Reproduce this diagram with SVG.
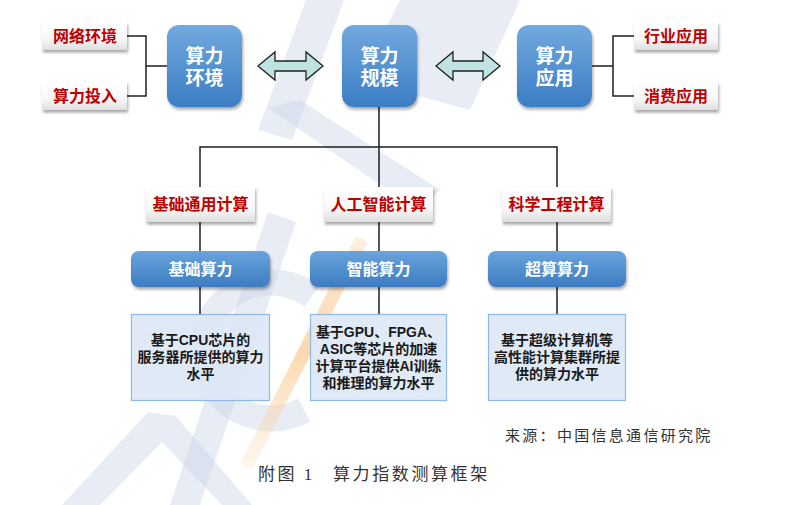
<svg xmlns="http://www.w3.org/2000/svg" width="786" height="505" viewBox="0 0 786 505">
<style>
.cjk{font-family:"Liberation Sans","Noto Sans CJK SC",sans-serif;font-weight:bold;text-anchor:middle}
.red{fill:#c00000;font-size:16px}
.wt{fill:#ffffff}
.big{font-size:19px}
.mid{font-size:16px}
.desc{fill:#1a1a1a;font-size:14px}
.wire{stroke:#1e1e1e;stroke-width:1.5;fill:none}
.arrow{fill:#bfe3e2;stroke:#222;stroke-width:1.3;stroke-linejoin:miter}
.tbox{fill:#dde8f5;stroke:#8db8e8;stroke-width:1.2;fill-opacity:0.9}
.serif{font-family:"Liberation Serif","Noto Sans CJK SC",serif;fill:#333;font-weight:normal}
.wm{fill:#c9d4e8;opacity:0.45}
</style>
<defs>
<linearGradient id="gBlue" x1="0" y1="0" x2="0" y2="1">
<stop offset="0" stop-color="#72a9df"/>
<stop offset="1" stop-color="#3b7dc4"/>
</linearGradient>
<linearGradient id="gBlueS" x1="0" y1="0" x2="0" y2="1">
<stop offset="0" stop-color="#6aa4dc"/>
<stop offset="1" stop-color="#3c7cc2"/>
</linearGradient>
<linearGradient id="gWhite" x1="0" y1="0" x2="0" y2="1">
<stop offset="0" stop-color="#ffffff"/>
<stop offset="0.6" stop-color="#f8f8f8"/>
<stop offset="1" stop-color="#dedede"/>
</linearGradient>
<linearGradient id="gOrange" x1="0" y1="0" x2="0" y2="1">
<stop offset="0" stop-color="#f6b46a" stop-opacity="0.2"/>
<stop offset="0.5" stop-color="#f8c98f" stop-opacity="0.7"/>
<stop offset="1" stop-color="#fbd9ae" stop-opacity="0.2"/>
</linearGradient>
<filter id="sh" x="-20%" y="-20%" width="140%" height="150%">
<feDropShadow dx="1" dy="2.5" stdDeviation="1.6" flood-color="#000" flood-opacity="0.35"/>
</filter>
</defs>
<rect width="786" height="505" fill="#ffffff"/>
<g id="watermark">
<polygon class="wm" points="62,505 148,412 176,416 252,505 222,505 162,442 100,505"/>
<path d="M 312,296 A 68 68 0 1 0 304,410" fill="none" stroke="#c9d4e8" stroke-width="26" opacity="0.45"/>
<polygon class="wm" points="268,212 296,222 200,505 170,505"/>
<polygon fill="url(#gOrange)" points="356,236 368,242 252,470 240,464"/>
<polygon class="wm" points="306,0 344,0 292,140 258,130"/>
<polygon class="wm" points="268,108 300,100 440,190 420,212"/>
<polygon class="wm" points="400,0 520,0 470,110 360,80"/>
</g>
<g id="connectors">
<polyline class="wire" points="127,36 146,36 146,96 127,96"/>
<line class="wire" x1="146" y1="66" x2="167" y2="66"/>
<line class="wire" x1="592" y1="66" x2="613" y2="66"/>
<polyline class="wire" points="635,36 613,36 613,96 635,96"/>
<line class="wire" x1="379" y1="107" x2="379" y2="187"/>
<polyline class="wire" points="200,187 200,147 557,147 557,187"/>
<line class="wire" x1="200" y1="222" x2="200" y2="251"/>
<line class="wire" x1="379" y1="222" x2="379" y2="251"/>
<line class="wire" x1="557" y1="222" x2="557" y2="251"/>
<line class="wire" x1="200" y1="287" x2="200" y2="314"/>
<line class="wire" x1="379" y1="287" x2="379" y2="314"/>
<line class="wire" x1="557" y1="287" x2="557" y2="314"/>
<path class="arrow" d="M258,66 L275,52 L275,61 L306,61 L306,52 L323,66 L306,80 L306,71 L275,71 L275,80 Z"/>
<path class="arrow" d="M436,66 L453,52 L453,61 L483,61 L483,52 L500,66 L483,80 L483,71 L453,71 L453,80 Z"/>
</g>
<g id="n-wangluo">
<rect x="42" y="22" width="85" height="28" fill="url(#gWhite)" filter="url(#sh)"/>
<text class="cjk red" x="85" y="42">网络环境</text>
</g>
<g id="n-touru">
<rect x="42" y="82" width="85" height="28" fill="url(#gWhite)" filter="url(#sh)"/>
<text class="cjk red" x="85" y="102">算力投入</text>
</g>
<g id="n-huanjing">
<rect x="167" y="25" width="75" height="82" rx="12" fill="url(#gBlue)" filter="url(#sh)"/>
<text class="cjk wt big"><tspan x="204.5" y="63">算力</tspan><tspan x="204.5" y="85">环境</tspan></text>
</g>
<g id="n-guimo">
<rect x="342" y="25" width="75" height="82" rx="12" fill="url(#gBlue)" filter="url(#sh)"/>
<text class="cjk wt big"><tspan x="379.5" y="63">算力</tspan><tspan x="379.5" y="85">规模</tspan></text>
</g>
<g id="n-yingyong">
<rect x="517" y="25" width="75" height="82" rx="12" fill="url(#gBlue)" filter="url(#sh)"/>
<text class="cjk wt big"><tspan x="554.5" y="63">算力</tspan><tspan x="554.5" y="85">应用</tspan></text>
</g>
<g id="n-hangye">
<rect x="634" y="22" width="84" height="28" fill="url(#gWhite)" filter="url(#sh)"/>
<text class="cjk red" x="676" y="42">行业应用</text>
</g>
<g id="n-xiaofei">
<rect x="634" y="82" width="84" height="28" fill="url(#gWhite)" filter="url(#sh)"/>
<text class="cjk red" x="676" y="102">消费应用</text>
</g>
<g id="n-jichutongyong">
<rect x="146" y="187" width="109" height="35" fill="url(#gWhite)" filter="url(#sh)"/>
<text class="cjk red" x="200.5" y="210">基础通用计算</text>
</g>
<g id="n-rengong">
<rect x="324" y="187" width="109" height="35" fill="url(#gWhite)" filter="url(#sh)"/>
<text class="cjk red" x="378.5" y="210">人工智能计算</text>
</g>
<g id="n-kexue">
<rect x="502" y="187" width="109" height="35" fill="url(#gWhite)" filter="url(#sh)"/>
<text class="cjk red" x="556.5" y="210">科学工程计算</text>
</g>
<g id="n-jichusuanli">
<rect x="131" y="251" width="139" height="36" rx="8" fill="url(#gBlueS)" filter="url(#sh)"/>
<text class="cjk wt mid" x="200.5" y="275">基础算力</text>
</g>
<g id="n-zhineng">
<rect x="310" y="251" width="137" height="36" rx="8" fill="url(#gBlueS)" filter="url(#sh)"/>
<text class="cjk wt mid" x="378.5" y="275">智能算力</text>
</g>
<g id="n-chaosuan">
<rect x="488" y="251" width="138" height="36" rx="8" fill="url(#gBlueS)" filter="url(#sh)"/>
<text class="cjk wt mid" x="557" y="275">超算算力</text>
</g>
<g id="n-desc1">
<rect class="tbox" x="131.5" y="314.5" width="138" height="86"/>
<text class="cjk desc"><tspan x="200.5" y="345">基于CPU芯片的</tspan><tspan x="200.5" y="362">服务器所提供的算力</tspan><tspan x="200.5" y="379">水平</tspan></text>
</g>
<g id="n-desc2">
<rect class="tbox" x="310.5" y="314.5" width="136" height="86"/>
<text class="cjk desc"><tspan x="378.5" y="337">基于GPU、FPGA、</tspan><tspan x="378.5" y="354">ASIC等芯片的加速</tspan><tspan x="378.5" y="371">计算平台提供AI训练</tspan><tspan x="378.5" y="388">和推理的算力水平</tspan></text>
</g>
<g id="n-desc3">
<rect class="tbox" x="488.5" y="314.5" width="137" height="86"/>
<text class="cjk desc"><tspan x="557" y="345">基于超级计算机等</tspan><tspan x="557" y="362">高性能计算集群所提</tspan><tspan x="557" y="379">供的算力水平</tspan></text>
</g>
<g id="captions">
<text class="serif" x="505" y="441" font-size="15" letter-spacing="2.3">来源：中国信息通信研究院</text>
<text class="serif" x="258" y="480" font-size="17" letter-spacing="2.5">附图 1</text>
<text class="serif" x="333" y="480" font-size="17" letter-spacing="2.6">算力指数测算框架</text>
</g>
</svg>
